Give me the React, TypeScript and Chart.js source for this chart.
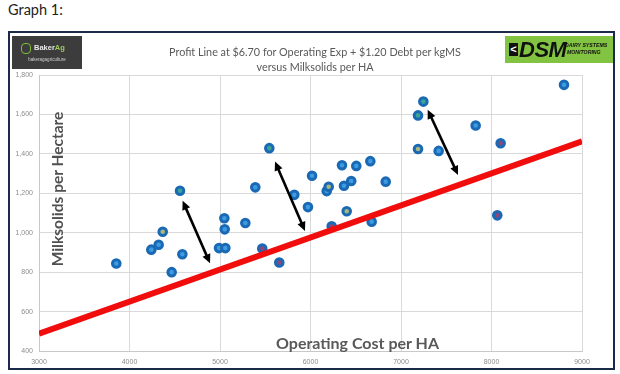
import React, { useEffect, useRef } from "react";
import { Chart, registerables } from "chart.js";

Chart.register(...registerables);

// ---- data ----
const opCostPerHa = [3854, 4241, 4322, 4367, 4466, 4584, 4558, 4989, 5059, 5048, 5052, 5280, 5390, 5467, 5545, 5655, 5821, 5972, 6017, 6179, 6201, 6234, 6348, 6370, 6450, 6400, 6506, 6661, 6676, 6831, 7188, 7247, 7188, 7416, 7825, 8101, 8064, 8801];
const milksolidsPerHa = [844, 914, 939, 1005, 800, 891, 1213, 922, 922, 1073, 1017, 1049, 1230, 920, 1429, 849, 1192, 1130, 1289, 1211, 1233, 1033, 1342, 1238, 1262, 1109, 1339, 1363, 1056, 1259, 1595, 1665, 1425, 1415, 1544, 1454, 1088, 1750];
// marker centre tint codes: b = blue, g = green, y = yellow, r = red
const pointTint = ["b", "b", "b", "y", "b", "b", "g", "b", "b", "b", "b", "b", "b", "r", "g", "r", "b", "b", "b", "b", "y", "r", "b", "b", "b", "y", "b", "b", "b", "b", "g", "g", "y", "b", "b", "r", "r", "b"];

const profitLineX = [3000, 9000];
const profitLineY = [488, 1464];

const arrowFromX = [4587, 5608, 7295];
const arrowFromY = [1162, 1361, 1624];
const arrowToX = [4890, 5939, 7630];
const arrowToY = [845, 1009, 1293];

const xMin = 3000, xMax = 9000, xStep = 1000;
const yMin = 400, yMax = 1800, yStep = 200;

const titleLines = ["Profit Line at $6.70 for Operating Exp + $1.20 Debt per kgMS", "versus Milksolids per HA"];
const xTitle = "Operating Cost per HA";
const yTitle = "Milksolids per Hectare";

const tintColor: Record<string, string> = {
  b: "#3d9be2",
  g: "#3aa596",
  y: "#a8b87c",
  r: "#8c4878",
};

const arrowPlugin = {
  id: "arrows",
  afterDatasetsDraw(chart: any) {
    const { ctx, scales } = chart;
    const xs = scales.x, ys = scales.y;
    ctx.save();
    ctx.strokeStyle = "#000";
    ctx.fillStyle = "#000";
    ctx.lineWidth = 2.6;
    const head = 9, half = 4.2;
    for (let i = 0; i < arrowFromX.length; i++) {
      const x1 = xs.getPixelForValue(arrowFromX[i]);
      const y1 = ys.getPixelForValue(arrowFromY[i]);
      const x2 = xs.getPixelForValue(arrowToX[i]);
      const y2 = ys.getPixelForValue(arrowToY[i]);
      const ang = Math.atan2(y2 - y1, x2 - x1);
      const ux = Math.cos(ang), uy = Math.sin(ang);
      ctx.beginPath();
      ctx.moveTo(x1 + ux * head * 0.8, y1 + uy * head * 0.8);
      ctx.lineTo(x2 - ux * head * 0.8, y2 - uy * head * 0.8);
      ctx.stroke();
      const drawHead = (px: number, py: number, dx: number, dy: number) => {
        ctx.beginPath();
        ctx.moveTo(px, py);
        ctx.lineTo(px - dx * head - dy * half, py - dy * head + dx * half);
        ctx.lineTo(px - dx * head + dy * half, py - dy * head - dx * half);
        ctx.closePath();
        ctx.fill();
      };
      drawHead(x2, y2, ux, uy);
      drawHead(x1, y1, -ux, -uy);
    }
    ctx.restore();
  },
};

export default function App() {
  const ref = useRef<HTMLCanvasElement>(null);
  useEffect(() => {
    if (!ref.current) return;
    const chart = new Chart(ref.current, {
      type: "scatter",
      data: {
        datasets: [
          {
            type: "line",
            data: profitLineX.map((x, i) => ({ x, y: profitLineY[i] })),
            borderColor: "#f20d0d",
            borderWidth: 6,
            pointRadius: 0,
            fill: false,
          } as any,
          {
            data: opCostPerHa.map((x, i) => ({ x, y: milksolidsPerHa[i] })),
            pointRadius: 3.8,
            pointBorderWidth: 3,
            borderColor: "#1b6bb8",
            backgroundColor: pointTint.map((t) => tintColor[t]),
            pointBackgroundColor: pointTint.map((t) => tintColor[t]),
            pointBorderColor: "#1a69b5",
          },
        ],
      },
      options: {
        responsive: false,
        animation: false,
        events: [],
        layout: { padding: { left: 0, top: 75, right: 38, bottom: 0 } },
        plugins: { legend: { display: false }, tooltip: { enabled: false } },
        scales: {
          x: {
            type: "linear",
            min: xMin,
            max: xMax,
            afterFit(s: any) { s.height = 23; },
            grid: { color: "#d9d9d9", drawTicks: false },
            border: { color: "#c8c8c8" },
            ticks: {
              stepSize: xStep,
              padding: 7,
              color: "#8c8c8c",
              font: { size: 7, family: "Liberation Sans" },
              callback: (v: any) => String(v),
            },
          },
          y: {
            type: "linear",
            min: yMin,
            max: yMax,
            afterFit(s: any) { s.width = 39; },
            grid: { color: "#d9d9d9", drawTicks: false },
            border: { color: "#c8c8c8" },
            ticks: {
              stepSize: yStep,
              padding: 6,
              color: "#8c8c8c",
              font: { size: 7, family: "Liberation Sans" },
            },
          },
        },
      },
      plugins: [arrowPlugin],
    });
    return () => chart.destroy();
  }, []);

  return (
    <div style={{ position: "fixed", left: 0, top: 0, width: 620, height: 374, background: "#fff", overflow: "hidden", fontFamily: "Lato, 'Liberation Sans', sans-serif" }}>
      <div style={{ position: "absolute", left: 8, top: 1, fontSize: 14.5, color: "#222", fontFamily: "Lato, sans-serif" }}>Graph 1:</div>
      <div style={{ position: "absolute", left: 8, top: 31, width: 603, height: 335, border: "2px solid #1c2a4a" }} />
      <canvas ref={ref} width={620} height={374} style={{ position: "absolute", left: 0, top: 0 }} />
      {/* title */}
      <div style={{ position: "absolute", left: 120, width: 390, top: 44, textAlign: "center", fontSize: 10.8, lineHeight: "15px", color: "#595959" }}>
        {titleLines.map((l, i) => (<div key={i}>{l}</div>))}
      </div>
      {/* axis titles inside plot */}
      <div style={{ position: "absolute", left: 276, top: 333, fontSize: 16, fontWeight: 700, color: "#595959", whiteSpace: "nowrap" }}>{xTitle}</div>
      <div style={{ position: "absolute", left: 57, top: 189, width: 0, height: 0 }}>
        <div style={{ position: "absolute", transform: "translate(-50%,-50%) rotate(-90deg)", fontSize: 15.5, fontWeight: 700, color: "#505050", whiteSpace: "nowrap" }}>{yTitle}</div>
      </div>
      {/* BakerAg logo */}
      <div style={{ position: "absolute", left: 12, top: 36, width: 70, height: 33, background: "#3c3c3c" }}>
        <div style={{ position: "absolute", left: 9, top: 7, width: 8, height: 9, border: "1.5px solid #7dbb3b", borderRadius: 4 }} />
        <div style={{ position: "absolute", left: 22, top: 7, fontSize: 7.5, fontWeight: 700, color: "#e8e8e8", fontFamily: "'Liberation Sans', sans-serif" }}>Baker<span style={{ color: "#9ccc5a" }}>Ag</span></div>
        <div style={{ position: "absolute", left: 6, top: 21, width: 58, textAlign: "center", fontSize: 4.5, color: "#cfcfcf", fontFamily: "'Liberation Sans', sans-serif" }}>bakeragagriculture</div>
      </div>
      {/* DSM logo */}
      <div style={{ position: "absolute", left: 505, top: 36, width: 108, height: 27, background: "#82c341", fontFamily: "'Liberation Sans', sans-serif", overflow: "hidden" }}>
        <div style={{ position: "absolute", left: 4, top: 7, width: 9, height: 13, background: "#111", color: "#fff", fontSize: 11, fontWeight: 700, lineHeight: "13px", textAlign: "center" }}>&lt;</div>
        <div style={{ position: "absolute", left: 14, top: 1, fontSize: 22, fontWeight: 700, fontStyle: "italic", color: "#111", letterSpacing: -0.5 }}>DSM</div>
        <div style={{ position: "absolute", left: 60, top: 6, fontSize: 5.2, fontWeight: 700, fontStyle: "italic", color: "#111", lineHeight: "7px", whiteSpace: "nowrap" }}>
          DAIRY SYSTEMS<br /><span style={{ paddingLeft: 2 }}>MONITORING</span>
        </div>
      </div>
    </div>
  );
}
